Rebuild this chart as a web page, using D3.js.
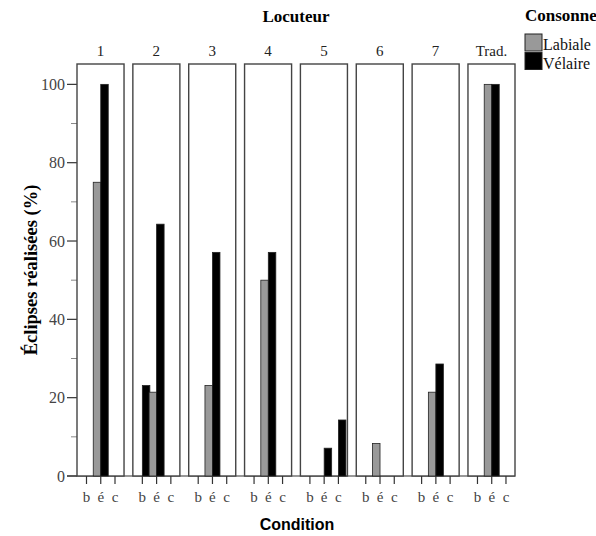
<!DOCTYPE html>
<html><head><meta charset="utf-8">
<script src="https://cdn.jsdelivr.net/npm/d3@7"></script>
<style>html,body{margin:0;padding:0;background:#fff;}svg{display:block;}</style>
</head><body>
<script>
const speakers = ["1","2","3","4","5","6","7","Trad."];
const conditions = ["b","é","c"];
const series = ["Labiale","Vélaire"];
const labiale = [
  [0, 75, 0],
  [0, 21.4, 0],
  [0, 23.1, 0],
  [0, 50, 0],
  [0, 0, 0],
  [0, 8.3, 0],
  [0, 21.4, 0],
  [0, 100, 0]
];
const velaire = [
  [0, 100, 0],
  [23.1, 64.3, 0],
  [0, 57.1, 0],
  [0, 57.1, 0],
  [0, 7.1, 14.3],
  [0, 0, 0],
  [0, 28.6, 0],
  [0, 100, 0]
];
const yTicks = [0, 20, 40, 60, 80, 100];
const yMinor = [10, 30, 50, 70, 90];
const colors = {"Labiale": "#999999", "Vélaire": "#000000"};

const W = 596, H = 536;
const svg = d3.select("body").append("svg").attr("width", W).attr("height", H);
const serif = "'Liberation Serif','Times New Roman',serif";
const sans = "'Liberation Sans',Arial,sans-serif";

const x0 = d3.scaleBand().domain(speakers).range([77, 515]).paddingInner(0.158).paddingOuter(0);
const pw = x0.bandwidth();
const x1 = d3.scalePoint().domain(conditions).range([9.5, 38]);
const bw = 7.5;
const xs = d3.scaleBand().domain(series).range([-bw, bw]);
const y = d3.scaleLinear().domain([0, 105.2]).range([476, 64]);

// Titles
svg.append("text").attr("x", 296).attr("y", 22).attr("text-anchor", "middle")
  .style("font-family", serif).style("font-weight", "bold").style("font-size", "17px").text("Locuteur");
svg.append("text").attr("x", 297).attr("y", 530).attr("text-anchor", "middle")
  .style("font-family", sans).style("font-weight", "bold").style("font-size", "16px").text("Condition");
svg.append("text").attr("transform", "translate(37,270) rotate(-90)").attr("text-anchor", "middle")
  .style("font-family", serif).style("font-weight", "bold").style("font-size", "18.5px").text("Éclipses réalisées (%)");

// Y axis ticks
const yAxis = svg.append("g");
yAxis.selectAll("line.maj").data(yTicks).join("line").attr("class", "maj")
  .attr("x1", 67).attr("x2", 77).attr("y1", d => y(d)).attr("y2", d => y(d))
  .attr("stroke", "#333").attr("stroke-width", 1.2);
yAxis.selectAll("line.min").data(yMinor).join("line").attr("class", "min")
  .attr("x1", 71).attr("x2", 77).attr("y1", d => y(d)).attr("y2", d => y(d))
  .attr("stroke", "#888").attr("stroke-width", 1);
yAxis.selectAll("text").data(yTicks).join("text")
  .attr("x", 65).attr("y", d => y(d) + 5.5).attr("text-anchor", "end")
  .style("font-family", serif).style("font-size", "16px").attr("fill", "#444").text(d => d);

// Baseline
svg.append("line").attr("x1", 67).attr("x2", 515).attr("y1", y(0)).attr("y2", y(0))
  .attr("stroke", "#333").attr("stroke-width", 1.2);

// Panels
const panels = svg.selectAll("g.panel").data(speakers).join("g").attr("class", "panel")
  .attr("transform", d => `translate(${x0(d)},0)`);

panels.append("rect").attr("x", 0).attr("y", 64).attr("width", pw).attr("height", y(0) - 64)
  .attr("fill", "#fff").attr("stroke", "#444").attr("stroke-width", 1.4);

panels.append("text").attr("x", pw / 2).attr("y", 56).attr("text-anchor", "middle")
  .style("font-family", serif).style("font-size", "15px").attr("fill", "#222").text(d => d);

panels.each(function(sp, i) {
  const g = d3.select(this);
  const rows = [];
  conditions.forEach((c, j) => {
    rows.push({s: "Labiale", c, v: labiale[i][j]});
    rows.push({s: "Vélaire", c, v: velaire[i][j]});
  });
  g.selectAll("rect.bar").data(rows.filter(r => r.v > 0)).join("rect").attr("class", "bar")
    .attr("x", r => x1(r.c) + xs(r.s)).attr("width", xs.bandwidth())
    .attr("y", r => y(r.v)).attr("height", r => y(0) - y(r.v))
    .attr("fill", r => colors[r.s]).attr("stroke", "#222").attr("stroke-width", 0.8);
  g.selectAll("line.xt").data(conditions).join("line").attr("class", "xt")
    .attr("x1", c => x1(c)).attr("x2", c => x1(c)).attr("y1", y(0)).attr("y2", y(0) + 8)
    .attr("stroke", "#333").attr("stroke-width", 1.2);
  g.selectAll("text.xl").data(conditions).join("text").attr("class", "xl")
    .attr("x", c => x1(c)).attr("y", 502).attr("text-anchor", "middle")
    .style("font-family", serif).style("font-size", "15px").attr("fill", "#444").text(c => c);
});

// Legend
const lg = svg.append("g");
lg.append("text").attr("x", 525).attr("y", 21)
  .style("font-family", serif).style("font-weight", "bold").style("font-size", "17px").text("Consonne");
series.forEach((s, k) => {
  lg.append("rect").attr("x", 525).attr("y", 34 + k * 18.5).attr("width", 17).attr("height", 17)
    .attr("fill", colors[s]).attr("stroke", "#222").attr("stroke-width", 1);
  lg.append("text").attr("x", 543).attr("y", 49.5 + k * 19)
    .style("font-family", serif).style("font-size", "16px").attr("fill", "#111").text(s);
});
</script>
</body></html>
